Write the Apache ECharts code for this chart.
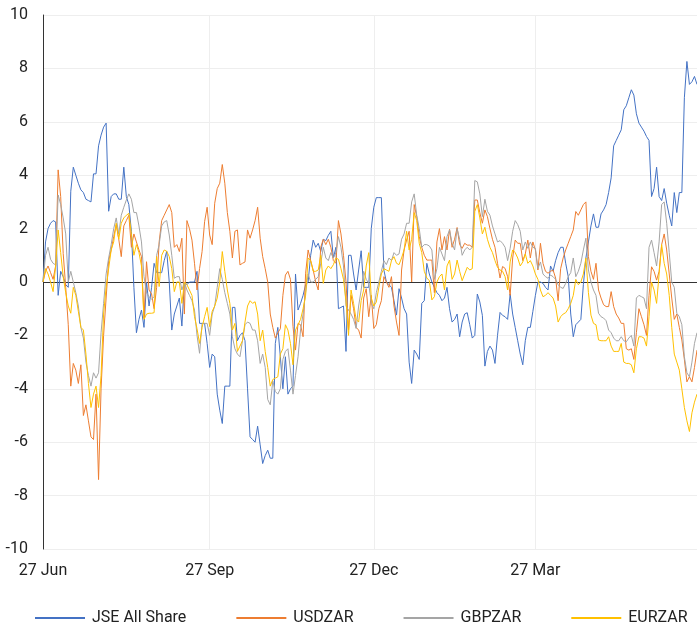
<!DOCTYPE html>
<html>
<head>
<meta charset="utf-8">
<script src="https://cdn.jsdelivr.net/npm/echarts@6/dist/echarts.min.js"></script>
<style>html,body{margin:0;padding:0;background:#fff;}#chart{width:697px;height:627px;}</style>
</head>
<body>
<div id="chart"></div>
<script>
// Trading-day series (weekdays starting 27 Jun)
const startDate = '2018-06-27';
const xTickLabels = ['27 Jun', '27 Sep', '27 Dec', '27 Mar'];
const seriesNames = ['JSE All Share', 'USDZAR', 'GBPZAR', 'EURZAR'];

const jseAllShare = [
  0.0,1.5,2.0,2.2,2.3,2.25,-0.5,0.4,0.2,-0.1,
  -0.2,3.4,4.3,4.0,3.7,3.45,3.35,3.1,3.05,3.0,
  4.05,4.05,5.1,5.5,5.8,5.95,2.65,3.2,3.3,3.3,
  3.1,3.1,4.3,3.2,2.9,1.9,-0.2,-1.9,-1.4,-1.05,
  -1.7,0.0,-0.9,-0.2,0.7,0.35,0.35,0.35,0.8,1.15,
  0.0,-1.8,-1.2,-0.9,-0.6,-1.65,0.0,-0.1,0.0,0.0,
  0.0,0.4,-1.55,-1.55,-1.55,-2.3,-3.2,-2.7,-2.8,-4.2,
  -4.8,-5.3,-3.9,-3.9,-3.9,-0.95,-0.95,-2.2,-2.0,-1.9,
  -2.2,-4.0,-5.8,-5.9,-6.0,-5.4,-6.1,-6.8,-6.5,-6.3,
  -6.6,-6.6,-2.3,-1.7,-2.8,-4.0,-2.8,-4.2,-4.0,-3.9,
  0.3,-1.05,-0.8,-0.5,-0.1,0.0,1.0,1.57,1.3,1.45,
  1.14,1.6,1.55,1.75,1.9,0.9,1.3,-1.0,-0.95,-0.9,
  -2.6,1.0,1.0,0.3,-0.3,0.45,1.17,-0.2,-0.2,-0.2,
  2.0,2.8,3.16,3.16,3.16,0.45,0.0,-0.1,-0.2,-0.7,
  -1.24,-0.25,-0.6,-1.0,-1.2,-3.0,-3.8,-2.55,-2.7,-2.9,
  -0.8,-0.7,0.7,0.3,0.0,-0.2,-0.4,-0.5,-0.7,-0.6,
  -0.2,-1.0,-1.5,-1.4,-1.2,-2.05,-1.5,-1.2,-1.15,-1.6,
  -2.1,-2.0,-0.45,-0.75,-1.25,-3.15,-2.6,-2.4,-2.55,-3.05,
  -2.0,-1.14,-1.25,-1.3,-1.4,-0.45,-1.2,-1.7,-2.2,-2.7,
  -3.1,-2.2,-1.7,-1.7,-1.1,-0.5,0.0,0.0,-0.05,-0.2,
  -0.3,0.6,0.4,0.8,1.1,1.3,1.3,0.7,0.2,-1.2,
  -2.05,-1.6,-1.5,-1.4,-0.1,0.9,1.5,2.1,2.55,2.05,
  2.05,2.55,2.7,2.9,3.35,3.9,5.1,5.3,5.5,5.7,
  6.45,6.6,6.9,7.2,7.0,6.3,5.95,5.8,5.65,5.45,
  5.3,3.2,3.5,4.3,3.2,3.05,3.5,2.95,2.5,2.1,
  3.35,2.6,3.35,3.35,6.9,8.26,7.4,7.5,7.7,7.4
];

const usdZar = [
  0.0,0.4,0.6,0.35,0.1,0.6,4.2,3.2,1.07,-0.2,
  -1.6,-3.9,-3.05,-3.3,-3.8,-3.1,-5.0,-4.6,-5.2,-5.8,
  -5.9,-4.2,-7.4,-4.0,-2.0,-0.6,0.8,1.2,1.7,2.14,
  1.6,0.95,2.1,2.3,2.5,1.3,1.8,1.5,1.2,0.95,
  -1.36,0.76,-0.3,-0.45,-1.0,-0.2,1.5,2.3,2.5,2.7,
  2.9,2.6,1.3,1.4,1.14,1.64,-1.2,2.3,2.0,1.57,
  0.7,-0.3,0.5,1.14,2.26,2.8,1.76,1.4,2.95,3.5,
  3.7,4.4,3.7,2.6,1.9,0.9,1.9,1.95,0.64,0.7,
  0.75,1.95,1.64,1.95,2.3,2.8,1.64,0.95,0.5,0.0,
  -1.2,-1.7,-2.1,-1.9,-1.75,-0.5,0.26,0.4,0.1,-1.67,
  -2.55,-1.55,-1.6,-2.05,0.33,1.2,0.8,0.45,0.0,-0.3,
  1.3,1.6,1.4,1.6,1.3,0.8,0.7,2.3,1.8,1.0,
  0.0,-1.8,-0.5,-1.0,-1.7,-1.8,-2.1,-0.6,-0.25,-1.3,
  -0.5,-1.74,-1.6,-1.0,-0.7,0.2,0.0,-0.2,0.2,-0.9,
  -1.5,-2.0,0.45,1.2,1.57,1.9,0.0,2.9,2.45,1.7,
  1.3,1.0,0.82,0.82,0.82,-0.4,1.5,2.0,1.2,1.7,
  1.2,1.97,1.3,1.6,2.04,1.4,1.26,1.45,1.38,1.38,
  1.3,3.07,3.07,2.6,2.2,2.7,2.45,2.0,1.6,1.3,
  0.7,0.15,0.58,0.51,0.2,-0.5,0.9,1.57,1.45,1.45,
  0.8,1.05,1.57,0.9,1.5,1.2,0.45,1.45,0.7,0.4,
  0.33,0.4,0.45,0.15,-0.7,0.5,0.9,1.2,1.45,1.7,
  1.95,2.64,2.5,2.7,2.9,3.0,0.95,0.4,0.1,0.7,
  -0.3,-0.6,-0.85,-0.92,-0.92,-0.36,-0.92,-1.2,-1.35,-1.55,
  -1.55,-2.5,-2.55,-2.5,-2.9,-1.9,-1.0,-1.3,-1.6,-2.0,
  -0.5,0.57,0.4,0.07,0.4,1.4,1.8,1.2,0.3,-0.6,
  -1.4,-1.2,-1.7,-2.17,-2.9,-3.74,-3.55,-3.74,-3.2,-2.55
];

const gbpZar = [
  0.0,1.0,1.3,0.85,0.7,0.64,3.26,2.9,2.4,1.8,
  0.0,0.4,0.0,-0.4,-0.9,-1.7,-2.1,-3.0,-3.5,-3.9,
  -3.4,-3.6,-3.4,-1.9,-0.8,0.3,0.9,1.4,2.0,2.4,
  1.8,2.5,2.8,3.07,3.3,3.1,2.6,2.6,2.1,1.5,
  0.2,-0.4,-0.55,-0.65,-0.55,1.0,1.4,2.1,2.25,2.3,
  1.76,1.0,0.14,0.2,0.2,-0.3,0.0,-0.3,-0.5,-0.7,
  -1.05,-2.0,-2.67,-1.55,-1.55,-1.55,-2.0,-1.2,-0.9,-0.2,
  0.5,0.1,-0.4,-0.8,-1.2,-2.05,-2.5,-2.7,-2.8,-2.2,
  -1.6,-1.5,-1.55,-1.8,-1.8,-2.2,-3.05,-2.7,-3.2,-4.4,
  -4.6,-3.7,-4.1,-4.2,-4.0,-2.9,-2.6,-2.5,-3.3,-4.2,
  -3.5,-2.8,-1.8,-1.2,-0.4,0.3,0.0,0.0,0.1,0.2,
  0.7,1.3,0.9,0.8,1.1,0.9,1.1,1.7,1.3,0.6,
  -0.9,-1.05,-1.2,-1.4,-1.74,-0.9,-0.3,0.4,0.1,-0.05,
  -0.8,-1.0,-0.4,0.0,0.4,0.8,0.65,0.9,0.8,1.1,
  1.0,1.05,1.6,1.8,2.2,2.2,3.0,3.3,2.5,2.0,
  1.3,1.4,1.4,1.35,1.2,0.1,0.5,1.3,1.05,0.8,
  1.7,1.95,1.45,1.2,2.0,1.6,1.0,1.2,1.3,1.2,
  1.3,3.8,3.75,3.3,2.45,3.1,2.65,2.5,2.1,1.8,
  1.5,1.55,1.45,1.3,0.8,1.26,1.9,2.3,2.15,1.9,
  1.2,1.5,1.26,1.5,1.3,1.26,0.5,0.75,0.3,0.2,
  0.14,0.26,0.2,0.1,-0.1,-0.2,-0.24,-0.05,0.2,0.35,
  0.9,0.2,0.4,0.7,1.2,1.64,0.45,0.0,-0.3,-0.5,
  -1.17,-1.3,-1.35,-1.45,-1.8,-1.9,-2.1,-2.2,-2.2,-2.05,
  -2.2,-2.24,-2.1,-2.0,-2.4,-0.6,-0.5,-0.55,-0.6,-1.0,
  1.3,1.57,1.1,0.6,1.5,2.9,3.0,2.2,1.1,0.0,
  -0.2,-1.17,-1.3,-1.6,-2.8,-3.4,-3.55,-3.0,-2.3,-1.9
];

const eurZar = [
  0.0,0.5,0.3,0.0,-0.36,0.6,1.95,1.1,0.2,-0.4,
  -0.9,-1.17,-0.2,-0.5,-1.1,-1.7,-1.8,-2.7,-3.8,-4.7,
  -4.2,-3.9,-4.7,-3.5,-1.2,-0.2,0.5,1.2,1.5,2.2,
  1.6,2.2,2.4,2.5,2.57,1.8,1.0,1.4,1.1,0.6,
  -1.4,-1.2,-1.17,-1.17,-1.15,0.95,-0.17,1.0,1.2,1.15,
  0.95,0.5,-0.36,0.0,0.0,-0.8,0.0,-0.1,-0.3,-0.5,
  -1.3,-1.75,-2.3,-1.7,-1.3,-0.95,-1.67,-1.1,-0.9,-0.6,
  0.0,1.14,0.4,-0.3,-0.8,-1.8,-1.55,-2.6,-2.4,-2.2,
  -1.5,-0.9,-0.7,-0.8,-0.74,-1.2,-2.2,-1.8,-2.6,-3.2,
  -3.9,-3.65,-3.6,-3.55,-2.7,-2.5,-1.6,-1.8,-2.3,-3.1,
  -1.8,-1.6,-1.4,-1.0,-0.5,0.9,0.8,0.4,0.4,0.45,
  1.0,-0.05,0.45,0.6,0.5,0.65,0.9,0.85,0.5,0.1,
  -0.7,-2.0,-0.3,-0.8,-1.4,-1.5,-0.7,-0.3,0.6,1.1,
  -0.6,-0.9,-0.75,-0.2,0.3,0.5,0.45,0.4,0.8,0.95,
  0.7,0.65,0.9,1.2,1.9,1.2,1.6,2.6,2.3,1.45,
  1.1,0.4,0.15,0.05,-0.67,-0.55,0.0,0.2,0.3,-0.3,
  0.6,0.82,0.1,0.3,0.82,0.4,0.05,0.3,0.55,0.45,
  0.5,2.64,2.9,2.4,1.8,2.05,1.6,1.3,1.1,0.8,
  0.55,0.45,0.4,0.2,-0.3,0.75,1.2,1.1,0.9,0.6,
  0.75,1.05,0.7,0.8,0.6,0.3,0.1,-0.3,-0.55,-0.5,
  -0.4,-0.5,-0.6,-0.9,-1.5,-1.3,-1.2,-1.15,-1.0,-0.8,
  -0.5,0.1,-0.1,0.0,0.3,0.9,-0.4,-1.24,-1.55,-1.6,
  -2.17,-2.2,-2.2,-2.2,-2.05,-2.4,-2.6,-2.6,-2.6,-2.3,
  -3.0,-3.05,-3.05,-3.1,-3.4,-2.5,-2.05,-2.05,-2.1,-2.4,
  -1.3,0.0,-0.3,-0.8,0.3,1.4,0.7,0.3,-0.5,-1.7,
  -2.7,-3.0,-3.3,-4.0,-4.7,-5.2,-5.6,-4.9,-4.5,-4.2
];

const colors = ['#4472C4', '#ED7D31', '#A5A5A5', '#FFC000'];

// Build weekday category labels
const months = ['Jan','Feb','Mar','Apr','May','Jun','Jul','Aug','Sep','Oct','Nov','Dec'];
const categories = [];
(function () {
  const d = new Date(startDate + 'T00:00:00Z');
  while (categories.length < jseAllShare.length) {
    const wd = d.getUTCDay();
    if (wd !== 0 && wd !== 6) {
      categories.push(d.getUTCDate() + ' ' + months[d.getUTCMonth()]);
    }
    d.setUTCDate(d.getUTCDate() + 1);
  }
})();

const showTick = function (idx, val) { return xTickLabels.indexOf(val) !== -1; };

const allData = [jseAllShare, usdZar, gbpZar, eurZar];
const series = seriesNames.map(function (name, k) {
  const s = {
    name: name,
    type: 'line',
    data: allData[k],
    showSymbol: false,
    symbol: 'none',
    lineStyle: { width: 1, color: colors[k] },
    itemStyle: { color: colors[k] },
    z: 3 + k
  };
  if (k === 0) {
    s.markLine = {
      silent: true,
      symbol: ['none', 'none'],
      label: { show: false },
      lineStyle: { color: '#333333', width: 1, type: 'solid' },
      data: [{ yAxis: 0 }],
      z: 1
    };
  }
  return s;
});

const chart = echarts.init(document.getElementById('chart'));
chart.setOption({
  animation: false,
  backgroundColor: '#ffffff',
  color: colors,
  textStyle: { fontFamily: 'Roboto' },
  grid: { left: 43, right: 0, top: 15, bottom: 78, containLabel: false },
  legend: {
    data: seriesNames,
    top: 610,
    left: 35,
    width: 662,
    padding: 0,
    icon: 'rect',
    itemWidth: 50,
    itemHeight: 2,
    itemGap: 50,
    textStyle: { fontFamily: 'Roboto', fontSize: 16, color: '#222222', padding: [0, 0, 0, 2] }
  },
  xAxis: {
    type: 'category',
    data: categories,
    boundaryGap: false,
    axisLine: { show: false },
    axisTick: { show: false },
    axisLabel: {
      interval: showTick,
      fontFamily: 'Roboto',
      fontSize: 16,
      color: '#222222',
      margin: 14
    },
    splitLine: {
      show: true,
      interval: showTick,
      lineStyle: { color: '#eeeeee', width: 1 }
    }
  },
  yAxis: {
    type: 'value',
    min: -10,
    max: 10,
    interval: 2,
    axisLine: { show: true, onZero: false, lineStyle: { color: '#333333', width: 1 } },
    axisTick: { show: false },
    axisLabel: { fontFamily: 'Roboto', fontSize: 16, color: '#222222', margin: 15 },
    splitLine: { show: true, lineStyle: { color: '#eeeeee', width: 1 } }
  },
  series: series
});
</script>
</body>
</html>
